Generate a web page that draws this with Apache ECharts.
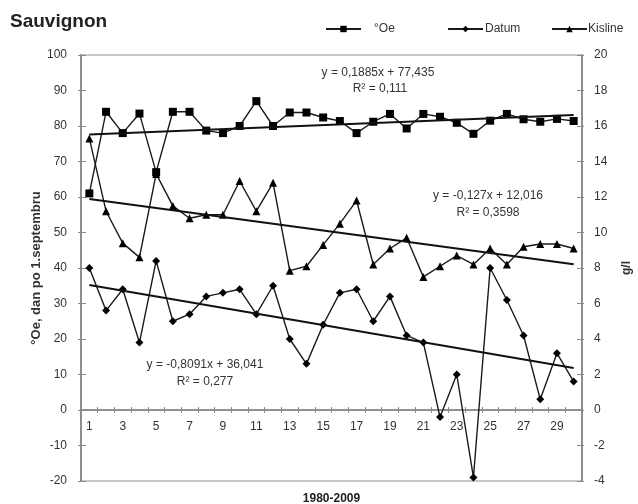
<!DOCTYPE html>
<html>
<head>
<meta charset="utf-8">
<script src="https://cdn.jsdelivr.net/npm/echarts@6/dist/echarts.min.js"></script>
<style>html,body{margin:0;padding:0;background:#fff}#c{width:638px;height:504px}</style>
</head>
<body>
<div id="c"></div>
<script>
// ---- data ----
const categories = ['1','2','3','4','5','6','7','8','9','10','11','12','13','14','15','16','17','18','19','20','21','22','23','24','25','26','27','28','29','30'];
const oe = [61, 84, 78, 83.5, 67, 84, 84, 78.7, 78, 80, 87, 80, 83.8, 83.8, 82.4, 81.4, 78, 81.2, 83.4, 79.3, 83.4, 82.6, 80.9, 77.8, 81.5, 83.4, 81.9, 81.2, 82, 81.4];
const datum = [40, 28, 34, 19, 42, 25, 27, 32, 33, 34, 27, 35, 20, 13, 24, 33, 34, 25, 32, 21, 19, -2, 10, -19, 40, 31, 21, 3, 16, 8];
const kisline = [15.3, 11.2, 9.4, 8.6, 13.3, 11.5, 10.8, 11, 11, 12.9, 11.2, 12.8, 7.85, 8.1, 9.3, 10.5, 11.8, 8.2, 9.1, 9.7, 7.5, 8.1, 8.7, 8.2, 9.1, 8.2, 9.2, 9.35, 9.35, 9.1];
// trend line end values (at category 1 and 30)
const oeTrend = [77.6, 83.1];
const datumTrend = [35.2, 11.8];
const kislineTrend = [11.89, 8.21];
const leftTicks = {min: -20, max: 100, interval: 10};
const rightTicks = {min: -4, max: 20, interval: 2};
const seriesNames = ['°Oe', 'Datum', 'Kisline'];
const equations = [
  ['y = 0,1885x + 77,435', 'R² = 0,111'],
  ['y = -0,127x + 12,016', 'R² = 0,3598'],
  ['y = -0,8091x + 36,041', 'R² = 0,277']
];

function trend(ends) {
  const arr = categories.map(() => null);
  arr[0] = ends[0];
  arr[arr.length - 1] = ends[1];
  return arr;
}

const FONT = 'Liberation Sans, Arial, sans-serif';
const AX = '#8a8a8a';
const GRID_TOP = 55, GRID_BOTTOM = 23, H = 504;
const plotH = H - GRID_TOP - GRID_BOTTOM;
// distance of the value 0 above the bottom of the plot
const zeroOffset = plotH * (0 - leftTicks.min) / (leftTicks.max - leftTicks.min);

const chart = echarts.init(document.getElementById('c'), null, {renderer: 'canvas'});

const lineStyle = {color: '#1a1a1a', width: 1.4};
const trendStyle = {color: '#111', width: 2};

function legendFor(name, left, padLeft) {
  return {
    data: [name], left: left, top: 23, itemWidth: 35, itemHeight: 8, itemGap: 0,
    textStyle: {fontFamily: FONT, fontSize: 12, color: '#333', padding: [0, 0, 0, padLeft]},
    padding: 0
  };
}

const yBase = {
  type: 'value', splitLine: {show: false},
  axisLine: {show: true, lineStyle: {color: AX, width: 1.5}},
  axisLabel: {fontFamily: FONT, fontSize: 12, color: '#333'}
};

chart.setOption({
  animation: false,
  backgroundColor: '#fff',
  title: {text: 'Sauvignon', left: 10, top: 12, padding: 0,
    textStyle: {fontFamily: FONT, fontSize: 19, fontWeight: 'bold', color: '#222'}},
  legend: [legendFor(seriesNames[0], 325, 8), legendFor(seriesNames[1], 447, -3), legendFor(seriesNames[2], 551, -4)],
  grid: {left: 81, right: 56, top: GRID_TOP, bottom: GRID_BOTTOM, show: true, borderColor: '#b8b8b8', borderWidth: 1.5,
    containLabel: false, outerBoundsMode: 'none'},
  xAxis: [
    {type: 'category', data: categories, boundaryGap: true, position: 'bottom', offset: -zeroOffset,
     axisLine: {onZero: false, lineStyle: {color: AX, width: 1.5}},
     axisTick: {show: true, interval: 0, length: 3, lineStyle: {color: AX}},
     axisLabel: {interval: 1, margin: 11, fontFamily: FONT, fontSize: 12, color: '#333'}},
    {type: 'category', data: categories, boundaryGap: true, position: 'bottom', offset: -zeroOffset,
     axisLine: {onZero: false, lineStyle: {color: AX, width: 1.5}},
     axisTick: {show: true, inside: true, interval: 0, length: 3, lineStyle: {color: AX}},
     axisLabel: {show: false}},
    {type: 'category', data: categories, position: 'bottom', boundaryGap: true,
     axisLine: {show: false, onZero: false}, axisTick: {show: false}, axisLabel: {show: false},
     name: '1980-2009', nameLocation: 'middle', nameGap: 12, nameMoveOverlap: false,
     nameTextStyle: {fontFamily: FONT, fontSize: 12, fontWeight: 'bold', color: '#222'}}
  ],
  yAxis: [
    Object.assign({}, yBase, {position: 'left', min: leftTicks.min, max: leftTicks.max, interval: leftTicks.interval,
      name: '°Oe, dan po 1.septembru', nameLocation: 'middle', nameGap: 38, nameMoveOverlap: false,
      nameTextStyle: {fontFamily: FONT, fontSize: 13, fontWeight: 'bold', color: '#333'},
      axisTick: {show: true, inside: true, length: 5, lineStyle: {color: AX}},
      axisLabel: Object.assign({}, yBase.axisLabel, {margin: 14})}),
    Object.assign({}, yBase, {position: 'right', min: rightTicks.min, max: rightTicks.max, interval: rightTicks.interval,
      name: 'g/l', nameLocation: 'middle', nameGap: 39, nameRotate: 90, nameMoveOverlap: false,
      nameTextStyle: {fontFamily: FONT, fontSize: 12, fontWeight: 'bold', color: '#333'},
      axisTick: {show: true, inside: true, length: 5, lineStyle: {color: AX}},
      axisLabel: Object.assign({}, yBase.axisLabel, {margin: 12})}),
    Object.assign({}, yBase, {position: 'left', min: leftTicks.min, max: leftTicks.max, interval: leftTicks.interval,
      axisTick: {show: true, length: 3, lineStyle: {color: AX}}, axisLabel: {show: false}}),
    Object.assign({}, yBase, {position: 'right', min: rightTicks.min, max: rightTicks.max, interval: rightTicks.interval,
      axisTick: {show: true, length: 2, lineStyle: {color: AX}}, axisLabel: {show: false}})
  ],
  series: [
    {name: seriesNames[0], type: 'line', yAxisIndex: 0, data: oe, symbol: 'rect', symbolSize: 8,
     lineStyle: lineStyle, itemStyle: {color: '#000'}, z: 3},
    {name: seriesNames[1], type: 'line', yAxisIndex: 0, data: datum, symbol: 'diamond', symbolSize: 8,
     lineStyle: lineStyle, itemStyle: {color: '#000'}, z: 3},
    {name: seriesNames[2], type: 'line', yAxisIndex: 1, data: kisline, symbol: 'triangle', symbolSize: 8,
     lineStyle: lineStyle, itemStyle: {color: '#000'}, z: 3},
    {name: 'oeTrend', type: 'line', yAxisIndex: 0, data: trend(oeTrend), connectNulls: true, symbol: 'none', lineStyle: trendStyle, z: 4},
    {name: 'datumTrend', type: 'line', yAxisIndex: 0, data: trend(datumTrend), connectNulls: true, symbol: 'none', lineStyle: trendStyle, z: 4},
    {name: 'kislineTrend', type: 'line', yAxisIndex: 1, data: trend(kislineTrend), connectNulls: true, symbol: 'none', lineStyle: trendStyle, z: 4}
  ],
  graphic: [
    {type: 'text', x: 378, y: 73, style: {text: equations[0][0], align: 'center', verticalAlign: 'middle', font: '12px ' + FONT, fill: '#333'}},
    {type: 'text', x: 380, y: 89, style: {text: equations[0][1], align: 'center', verticalAlign: 'middle', font: '12px ' + FONT, fill: '#333'}},
    {type: 'text', x: 488, y: 196, style: {text: equations[1][0], align: 'center', verticalAlign: 'middle', font: '12px ' + FONT, fill: '#333'}},
    {type: 'text', x: 488, y: 213, style: {text: equations[1][1], align: 'center', verticalAlign: 'middle', font: '12px ' + FONT, fill: '#333'}},
    {type: 'text', x: 205, y: 365, style: {text: equations[2][0], align: 'center', verticalAlign: 'middle', font: '12px ' + FONT, fill: '#333'}},
    {type: 'text', x: 205, y: 382, style: {text: equations[2][1], align: 'center', verticalAlign: 'middle', font: '12px ' + FONT, fill: '#333'}}
  ]
});
</script>
</body>
</html>
